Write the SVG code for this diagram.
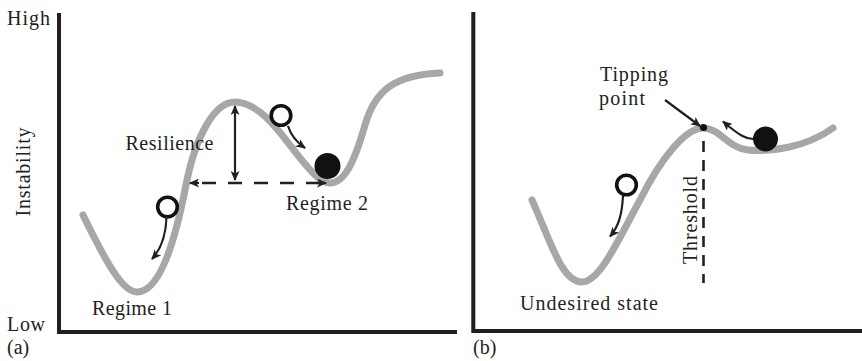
<svg xmlns="http://www.w3.org/2000/svg" width="862" height="361" viewBox="0 0 862 361">
  <style>
    .axis { stroke: #231f20; stroke-width: 4; fill: none; }
    .landscape { stroke: #a7a7a7; stroke-width: 7; fill: none; stroke-linecap: round; stroke-linejoin: round; }
    .arrow { stroke: #231f20; stroke-width: 2.2; fill: none; marker-end: url(#head); }
    .dashed { stroke: #231f20; stroke-width: 2.6; fill: none; }
    .ball-open { fill: #ffffff; stroke: #111111; stroke-width: 3.6; }
    .ball-full { fill: #111111; }
    text { font-family: "Liberation Serif", "Times New Roman", serif; font-size: 20px; fill: #231f20; }
  </style>
  <defs>
    <marker id="head" viewBox="0 0 10 9" markerWidth="10" markerHeight="9" refX="9" refY="4.5" orient="auto-start-reverse" markerUnits="userSpaceOnUse">
      <path d="M0,0 L10,4.5 L0,9 L2.6,4.5 z" fill="#231f20"/>
    </marker>
  </defs>

  <!-- axes -->
  <g id="axes-a">
    <path class="axis" d="M59,13 V332 H457"/>
  </g>
  <g id="axes-b">
    <path class="axis" d="M473.3,12 V331 H862"/>
  </g>

  <!-- stability landscapes -->
  <g id="landscape-a">
    <path class="landscape" d="M83,215 C105,260 122,292 137,292 C160,292 175,240 185,190 C195,135 215,102 235,102 C262,102 285,140 300,158 C312,172 320,183 330,183 C345,183 355,160 365,125 C375,90 395,75 440,73"/>
  </g>
  <g id="landscape-b">
    <path class="landscape" d="M532,200 C552,245 562,282 582,282 C600,282 618,240 640,200 C660,160 685,128 703,128 C720,128 728,148 748,150 C770,152 805,148 833,128"/>
  </g>

  <!-- balls -->
  <g id="ball-a-upper">
    <circle class="ball-open" cx="281" cy="115.5" r="9.8"/>
  </g>
  <g id="ball-a-regime2">
    <circle class="ball-full" cx="327.5" cy="166" r="13"/>
  </g>
  <g id="ball-a-lower">
    <circle class="ball-open" cx="167.5" cy="207" r="9.8"/>
  </g>
  <g id="ball-b-open">
    <circle class="ball-open" cx="626.5" cy="185" r="9.8"/>
  </g>
  <g id="ball-b-full">
    <circle class="ball-full" cx="765.5" cy="139" r="12.5"/>
  </g>
  <g id="tipping-dot">
    <circle cx="703.5" cy="127.5" r="3.6" fill="#111111"/>
  </g>

  <!-- connectors -->
  <g id="connectors">
    <path class="arrow" d="M288,126 Q292,139 305,148"/>
    <path class="arrow" d="M166.5,217 C166,236 161,249 152,259"/>
    <path class="arrow" d="M235,180 V106" style="marker-start: url(#head)"/>
    <path class="dashed" d="M196,183 H321" stroke-dasharray="14 12" stroke-dashoffset="-6"/>
    <path d="M199,183 H190" class="arrow"/>
    <path d="M316,183 H326" class="arrow"/>
    <path class="arrow" d="M665,100 L700,126"/>
    <path class="arrow" d="M753,139 C747,139 741,137 723,121.5"/>
    <path class="arrow" d="M623,196 C622,214 619,226 610,236.5"/>
    <path class="dashed" d="M703.5,141 V283" stroke-width="3" stroke-dasharray="11 8"/>
  </g>

  <!-- labels -->
  <g id="labels">
    <text x="7" y="25" textLength="43">High</text>
    <text x="7" y="331" textLength="38">Low</text>
    <text x="7" y="354">(a)</text>
    <text x="473" y="354">(b)</text>
    <text transform="translate(29.5,172) rotate(-90)" text-anchor="middle" textLength="89">Instability</text>
    <text x="125.5" y="149.5" textLength="88">Resilience</text>
    <text x="286" y="210" textLength="82">Regime 2</text>
    <text x="92" y="315" textLength="80">Regime 1</text>
    <text x="600" y="81" textLength="68">Tipping</text>
    <text x="599" y="104.5" textLength="46">point</text>
    <text transform="translate(696.5,220) rotate(-90)" text-anchor="middle" textLength="88">Threshold</text>
    <text x="520" y="309.5" textLength="138">Undesired state</text>
  </g>
</svg>
